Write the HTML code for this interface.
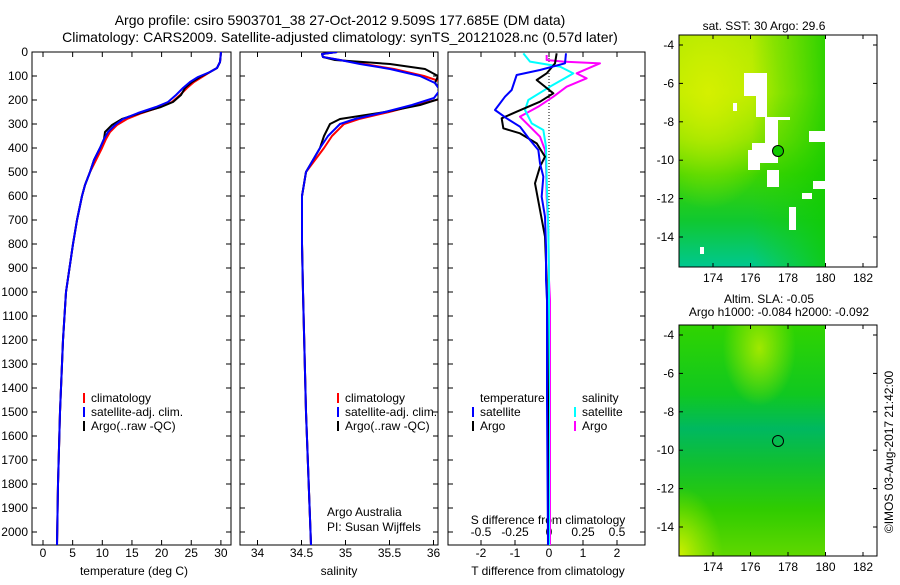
<!DOCTYPE html>
<html><head><meta charset="utf-8"><style>
body{margin:0;background:#fff;}
svg text{font-family:"Liberation Sans",sans-serif;fill:#000;}
</style></head><body>
<svg id="s" width="900" height="580" xmlns="http://www.w3.org/2000/svg">
<defs>
<linearGradient id="g1" x1="0" y1="0" x2="0" y2="1">
<stop offset="0" stop-color="#a8e800"/><stop offset="0.25" stop-color="#b4ec00"/><stop offset="0.45" stop-color="#7ee000"/><stop offset="0.6" stop-color="#3cd400"/><stop offset="0.8" stop-color="#10c830"/><stop offset="1" stop-color="#00c890"/>
</linearGradient>
<radialGradient id="y1" cx="0.2" cy="0.25" r="0.5"><stop offset="0" stop-color="#d8f000" stop-opacity="0.9"/><stop offset="1" stop-color="#d8f000" stop-opacity="0"/></radialGradient>
<linearGradient id="gr1" x1="0" y1="0" x2="1" y2="0"><stop offset="0.5" stop-color="#20d000" stop-opacity="0"/><stop offset="1" stop-color="#10cc00" stop-opacity="0.8"/></linearGradient>
<linearGradient id="g2" x1="0" y1="0" x2="0" y2="1">
<stop offset="0" stop-color="#30d400"/><stop offset="0.3" stop-color="#10c820"/><stop offset="0.45" stop-color="#00b860"/><stop offset="0.6" stop-color="#10c030"/><stop offset="0.8" stop-color="#30cc00"/><stop offset="1" stop-color="#60d800"/>
</linearGradient>
<radialGradient id="y2" cx="0.55" cy="0.1" r="0.25"><stop offset="0" stop-color="#a0e800"/><stop offset="1" stop-color="#a0e800" stop-opacity="0"/></radialGradient>
<radialGradient id="y3" cx="0" cy="1" r="0.3"><stop offset="0" stop-color="#d0f000"/><stop offset="1" stop-color="#a0e800" stop-opacity="0"/></radialGradient>
</defs>
<text x="340" y="25" font-size="14" text-anchor="middle">Argo profile: csiro 5903701_38 27-Oct-2012 9.509S 177.685E (DM data)</text>
<text x="340" y="42" font-size="14" text-anchor="middle">Climatology: CARS2009. Satellite-adjusted climatology: synTS_20121028.nc (0.57d later)</text>
<g id="axes" fill="none" stroke="#000" stroke-width="1"></g>
<g id="lbl" font-size="12"></g>
<g id="curves" fill="none" stroke-width="2" stroke-linejoin="round"></g>
<rect x="679" y="35" width="146" height="232" fill="url(#g1)"/>
<rect x="679" y="35" width="146" height="232" fill="url(#y1)"/>
<rect x="679" y="35" width="146" height="232" fill="url(#gr1)"/>
<g fill="#fff">
<rect x="744" y="73" width="23" height="23"/><rect x="756" y="96" width="11" height="21"/><rect x="765" y="117" width="25" height="3"/><rect x="765" y="117" width="13" height="26"/><rect x="752" y="143" width="26" height="20"/><rect x="748" y="150" width="12" height="20"/><rect x="767" y="170" width="12" height="17"/><rect x="809" y="131" width="16" height="11"/><rect x="813" y="181" width="12" height="8"/><rect x="802" y="193" width="10" height="6"/><rect x="789" y="207" width="7" height="23"/><rect x="733" y="103" width="4" height="8"/><rect x="700" y="247" width="4" height="7"/>
</g>
<circle cx="778" cy="151" r="5.5" fill="#10c800" stroke="#000"/>
<rect x="679" y="35" width="198" height="232" fill="none" stroke="#000"/>
<rect x="679" y="325" width="146" height="231" fill="url(#g2)"/>
<rect x="679" y="325" width="146" height="231" fill="url(#y2)"/>
<rect x="679" y="325" width="146" height="231" fill="url(#y3)"/>
<circle cx="778" cy="441" r="5.5" fill="none" stroke="#000"/>
<rect x="679" y="325" width="198" height="231" fill="none" stroke="#000"/>
<g id="maps" font-size="12"></g>
<text x="764" y="30" font-size="12" text-anchor="middle">sat. SST: 30 Argo: 29.6</text>
<text x="734" y="303" font-size="12" text-anchor="middle" dx="35">Altim. SLA: -0.05</text>
<text x="779" y="316" font-size="12" text-anchor="middle">Argo h1000: -0.084 h2000: -0.092</text>
<text transform="translate(893,452) rotate(-90)" font-size="12" text-anchor="middle">©IMOS 03-Aug-2017 21:42:00</text>
</svg>
<script>
var NS="http://www.w3.org/2000/svg";
function el(p,t,a,txt){var e=document.createElementNS(NS,t);for(var k in a)e.setAttribute(k,a[k]);if(txt!=null)e.textContent=txt;document.getElementById(p).appendChild(e);return e;}
var T=52,B=545;function Y(d){return 52+0.24*d;}
var panels=[[32,231],[240,438],[448,645]];
panels.forEach(function(p,i){
 el('axes','rect',{x:p[0],y:T,width:p[1]-p[0],height:B-T});
 for(var d=0;d<=2000;d+=100){var y=Y(d);el('axes','line',{x1:p[0],y1:y,x2:p[0]+5,y2:y});el('axes','line',{x1:p[1],y1:y,x2:p[1]-5,y2:y});
 if(i==0)el('lbl','text',{x:28,y:y+4,'text-anchor':'end'},d);}
});
function xt(vals,f,lab,yl){vals.forEach(function(v,j){var x=f(v);el('axes','line',{x1:x,y1:B,x2:x,y2:B-5});el('axes','line',{x1:x,y1:T,x2:x,y2:T+5});el('lbl','text',{x:x,y:yl,'text-anchor':'middle'},lab[j]);});}
xt([0,5,10,15,20,25,30],function(v){return 43+5.93*v},["0","5","10","15","20","25","30"],557);
xt([34,34.5,35,35.5,36],function(v){return 257.5+88*(v-34)},["34","34.5","35","35.5","36"],557);
xt([-2,-1,0,1,2],function(v){return 549+34*v},["-2","-1","0","1","2"],557);
[[-0.5,"-0.5"],[-0.25,"-0.25"],[0,"0"],[0.25,"0.25"],[0.5,"0.5"]].forEach(function(a){el('lbl','text',{x:549+136*a[0],y:536,'text-anchor':'middle'},a[1]);});
el('lbl','text',{x:134,y:575,'text-anchor':'middle'},"temperature (deg C)");
el('lbl','text',{x:339,y:575,'text-anchor':'middle'},"salinity");
el('lbl','text',{x:548,y:575,'text-anchor':'middle'},"T difference from climatology");
el('lbl','text',{x:548,y:524,'text-anchor':'middle'},"S difference from climatology");
el('lbl','text',{x:327,y:516},"Argo Australia");
el('lbl','text',{x:327,y:531},"PI: Susan Wijffels");
function leg(x,items){items.forEach(function(it,j){var y=398+14*j;if(it[0])el('axes','line',{x1:x,y1:y-5,x2:x,y2:y+5,stroke:it[0],'stroke-width':2});el('lbl','text',{x:x+7,y:y+4},it[1]);});}
leg(84,[["red","climatology"],["blue","satellite-adj. clim."],["black","Argo(..raw -QC)"]]);
leg(338,[["red","climatology"],["blue","satellite-adj. clim."],["black","Argo(..raw -QC)"]]);
leg(473,[[null,"temperature"],["blue","satellite"],["black","Argo"]]);
leg(575,[[null,"salinity"],["cyan","satellite"],["magenta","Argo"]]);
el('axes','line',{x1:549,y1:T,x2:549,y2:360,'stroke-dasharray':'1,2'});
function poly(pts,c,dx,clip){var s=pts.map(function(p){return (p[0]+(dx||0))+","+p[1]}).join(" ");var e=el('curves','polyline',{points:s,stroke:c});if(clip)e.setAttribute('clip-path','url(#'+clip+')');}
var cp=el('axes','clipPath',{id:'c2'});var r=document.createElementNS(NS,'rect');r.setAttribute('x',240);r.setAttribute('y',52);r.setAttribute('width',198);r.setAttribute('height',493);cp.appendChild(r);
document.querySelector('defs').appendChild(cp);
var tp=[[221,52],[220,62],[217,68],[210,72],[200,77],[192,82],[185,88],[178,95],[170,102],[158,107],[140,113],[125,119],[115,125],[108,132],[104,139],[100,148],[94,160],[90,172],[85,185],[82,196],[77,220],[73,244],[66,292],[63,340],[60,412],[58,484],[57,545]];
poly(tp.map(function(p,i){return [p[0]+(i>3&&i<17?2:0),p[1]]}),"red");
poly(tp.map(function(p,i){return [p[0]+(i>=11&&i<=13?-3:0)+(i>=7&&i<=9?3:0),p[1]]}),"black");
poly(tp.map(function(p,i){return [p[0]+(i>3&&i<12?-2:0),p[1]]}),"blue");
var sp=[[337,52],[322,54],[323,57],[340,60],[360,64],[390,69],[420,76],[435,83],[440,90],[434,98],[412,105],[385,112],[355,119],[340,124],[328,136],[320,148],[306,172],[302,196],[302,244],[303,292],[306,412],[311,545]];
poly(sp.map(function(p,i){return [p[0]+(i>3&&i<16?4:0)+(i>6&&i<10?6:0),p[1]]}),"red",0,'c2');
poly(sp.map(function(p,i){var dx=0;if(i==3)dx=-5;if(i==4)dx=30;if(i==5)dx=35;if(i==6)dx=18;if(i==9||i==10)dx=8;if(i==12)dx=-15;if(i==13)dx=-10;if(i==14)dx=-4;return [p[0]+dx,p[1]]}),"black",0,'c2');
poly(sp,"blue",0,'c2');
function cv(a){return a.map(function(p){return [440+p[0]/3,30+p[1]/3]});}
var blue=cv([[378,70],[375,100],[300,120],[230,135],[215,180],[195,200],[165,240],[200,265],[240,290],[270,330],[295,360],[300,400],[310,440],[305,500],[315,560],[318,650],[318,750]]).concat([[547,300],[547,400],[548,545]]);
var blk=cv([[350,70],[345,100],[320,130],[290,150],[340,190],[300,215],[230,245],[185,265],[190,295],[240,310],[290,340],[315,380],[300,410],[285,460],[300,540],[315,620],[320,750]]).concat([[547,300],[548,400],[548,545]]);
var cy=cv([[250,70],[270,95],[360,110],[400,130],[330,170],[265,210],[255,240],[275,280],[310,300],[318,350],[320,450],[325,600],[327,750]]).concat([[549,300],[549,400],[549,545]]);
var mg=cv([[320,75],[320,90],[370,95],[480,100],[410,130],[440,145],[380,170],[340,200],[295,230],[240,260],[270,290],[300,320],[315,360],[318,400],[320,500],[325,600],[327,750]]).concat([[550,300],[550,400],[550,545]]);
poly(mg,"magenta");poly(cy,"cyan");poly(blk,"black");poly(blue,"blue");
[[35,267,45],[325,556,335]].forEach(function(m){
 for(var lon=174;lon<=182;lon+=2){var x=713+18.75*(lon-174);el('maps','line',{x1:x,y1:m[1],x2:x,y2:m[1]-4,stroke:'#000'});el('maps','line',{x1:x,y1:m[0],x2:x,y2:m[0]+4,stroke:'#000'});el('maps','text',{x:x,y:m[1]+15,'text-anchor':'middle'},lon);}
 for(var lat=-4;lat>=-14;lat-=2){var y=m[2]+19.2*(-4-lat);el('maps','line',{x1:679,y1:y,x2:683,y2:y,stroke:'#000'});el('maps','line',{x1:877,y1:y,x2:873,y2:y,stroke:'#000'});el('maps','text',{x:674,y:y+4,'text-anchor':'end'},lat);}
});
</script>
</body></html>
